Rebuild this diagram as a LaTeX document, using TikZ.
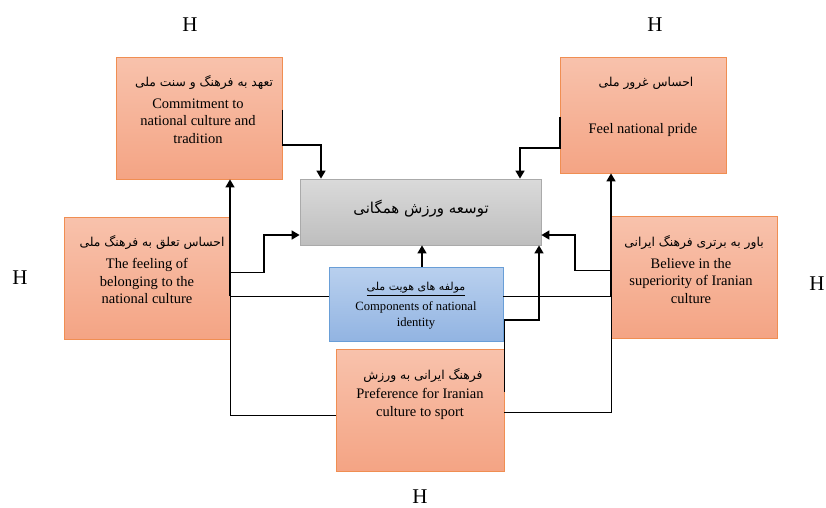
\documentclass[tikz,border=0pt]{standalone}
\usepackage{fontspec}
\setmainfont{Liberation Serif}
\newfontfamily\fa[Script=Arabic]{DejaVu Sans}
\TeXXeTstate=1
\usetikzlibrary{arrows.meta}
\definecolor{ortop}{RGB}{248,194,172}
\definecolor{orbot}{RGB}{244,164,132}
\definecolor{orline}{RGB}{240,142,82}
\definecolor{grtop}{RGB}{218,218,218}
\definecolor{grbot}{RGB}{190,190,190}
\definecolor{grline}{RGB}{170,170,170}
\definecolor{bltop}{RGB}{185,208,238}
\definecolor{blbot}{RGB}{146,180,226}
\definecolor{blline}{RGB}{105,158,215}
\tikzset{
  orbox/.style={draw=orline, line width=0.8pt, top color=ortop, bottom color=orbot, inner sep=0pt},
  grbox/.style={draw=grline, line width=0.8pt, top color=grtop, bottom color=grbot, inner sep=0pt},
  blbox/.style={draw=blline, line width=0.8pt, top color=bltop, bottom color=blbot, inner sep=0pt},
  txt/.style={align=center, font=\fontsize{14.5}{17.5}\selectfont, inner sep=0pt},
  fatxt/.style={font=\fontsize{12.3}{14}\fa, inner sep=0pt},
  hlab/.style={font=\fontsize{21}{24}\selectfont, inner sep=0pt},
  arr/.style={line width=1.6pt, -{Triangle[width=9pt,length=8pt]}},
  thn/.style={line width=0.8pt}
}
\begin{document}
\begin{tikzpicture}[x=1pt,y=-1pt]
\useasboundingbox (0,0) rectangle (826,507);
% boxes
\node[orbox, minimum width=166pt, minimum height=122pt] (A) at (199,118) {};
\node[orbox, minimum width=166pt, minimum height=116pt] (B) at (643.5,115) {};
\node[orbox, minimum width=166pt, minimum height=122pt] (C) at (147,278) {};
\node[orbox, minimum width=166pt, minimum height=122pt] (D) at (694,277) {};
\node[grbox, minimum width=241pt, minimum height=66pt] (E) at (420.5,212) {};
\node[blbox, minimum width=174pt, minimum height=74pt] (F) at (416,304) {};
\node[orbox, minimum width=168pt, minimum height=122pt] (G) at (420,410) {};
% texts
\node[fatxt] (Afa) at (204,82) {\beginR تعهد به فرهنگ و سنت ملی\endR};
\node[txt] (Aen) at (198,121) {Commitment to\\national culture and\\tradition};
\node[fatxt] (Bfa) at (646,83) {\beginR احساس غرور ملی\endR};
\node[txt] (Ben) at (643,130) {Feel national pride};
\node[fatxt] (Cfa) at (152,242) {\beginR احساس تعلق به فرهنگ ملی\endR};
\node[txt] (Cen) at (147,281) {The feeling of\\belonging to the\\national culture};
\node[fatxt] (Dfa) at (694,242) {\beginR باور به برتری فرهنگ ایرانی\endR};
\node[txt] (Den) at (691,281) {Believe in the\\superiority of Iranian\\culture};
\node[font=\fontsize{15}{18}\fa, inner sep=0pt] (Efa) at (421,209) {\beginR توسعه ورزش همگانی\endR};
\node[fatxt, font=\fontsize{11}{13}\fa] (Ffa) at (416,289) {\underline{\beginR مولفه های هویت ملی\endR}};
\node[txt, font=\fontsize{12.6}{16}\selectfont] (Fen) at (416,315) {Components of national\\identity};
\node[fatxt] (Gfa) at (423,375) {\beginR فرهنگ ایرانی به ورزش\endR};
\node[txt] (Gen) at (420,404) {Preference for Iranian\\culture to sport};
% H labels
\node[hlab] (H1) at (190,25) {H};
\node[hlab] (H2) at (655,25) {H};
\node[hlab] (H3) at (20,278) {H};
\node[hlab] (H4) at (817,284) {H};
\node[hlab] (H5) at (420,497) {H};
% bend coordinates
\coordinate (a1) at (321,145);
\coordinate (b1) at (520,148);
\coordinate (c1) at (264,235);
\coordinate (d1) at (575,235);
\coordinate (g1) at (539,320);
\coordinate (l1) at (230,296);
\coordinate (r1) at (611,296);
\coordinate (l2) at (230,415);
\coordinate (r2) at (611,412);
% connectors
\draw[arr] ([yshift=-53pt]A.north east) |- (a1) -- (a1 |- E.north);
\draw[arr] ([yshift=-60pt]B.north west) |- (b1) -- (b1 |- E.north);
\draw[arr] ([yshift=-56pt]C.north east) -| (c1) -- (c1 -| E.west);
\draw[arr] ([yshift=-55pt]D.north west) -| (d1) -- (d1 -| E.east);
\draw[arr] ([xshift=6pt]F.north) -- ([xshift=6pt]F.north |- E.south);
\draw[arr] ([yshift=-43pt]G.north east) |- (g1) -- (g1 |- E.south);
\draw[arr] (l1) -- (l1 |- A.south);
\draw[arr] (r1) -- (r1 |- B.south);
\draw[thn] (l1) -- (l1 -| F.west);
\draw[thn] (r1) -- (r1 -| F.east);
\draw[thn] (l1) -- (l2) -- (l2 -| G.west);
\draw[thn] (r1) -- (r2) -- (r2 -| G.east);
\end{tikzpicture}
\end{document}
